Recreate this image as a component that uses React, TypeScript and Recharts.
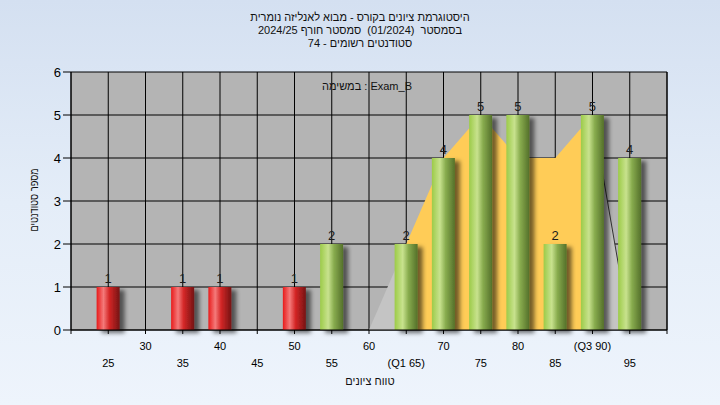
import React from 'react';
import {
  ComposedChart,
  Bar,
  Area,
  XAxis,
  YAxis,
  CartesianGrid,
  Cell,
  LabelList,
} from 'recharts';

// ---- data ----
const scores = [25, 30, 35, 40, 45, 50, 55, 60, 65, 70, 75, 80, 85, 90, 95];
const counts = [1, 0, 1, 1, 0, 1, 2, 0, 2, 4, 5, 5, 2, 5, 4];
// smoothed frequency curve drawn behind the bars (null = not drawn)
const curve = [null, null, null, null, null, null, null, 0, 2, 4, 5, 4, 4, 5, 0];
const Q1 = 65;
const Q3 = 90;
const PASS = 55;

const xTickValues = [20, 25, 30, 35, 40, 45, 50, 55, 60, 65, 70, 75, 80, 85, 90, 95, 100];
const xTickLabels = ['', '25', '30', '35', '40', '45', '50', '55', '60', '(Q1 65)', '70', '75', '80', '85', '(Q3 90)', '95', ''];
const yTicks = [0, 1, 2, 3, 4, 5, 6];

const titleLines = [
  'היסטוגרמת ציונים בקורס - מבוא לאנליזה נומרית',
  'בסמסטר  (01/2024)  סמסטר חורף 2024/25',
  'סטודנטים רשומים - 74',
];
const legendText = 'במשימה : Exam_B';
const xTitle = 'טווח ציונים';
const yTitle = 'מספר סטודנטים';

const data = scores.map((s, i) => ({
  x: s,
  count: counts[i],
  low: curve[i] !== null && s <= Q1 ? curve[i] : null,
  mid: curve[i] !== null && s >= Q1 && s <= Q3 ? curve[i] : null,
  high: curve[i] !== null && s >= Q3 ? curve[i] : null,
}));

const FONT = '"Liberation Sans", "DejaVu Sans", Arial, sans-serif';

const XTick = (props: any) => {
  const { x, y, payload } = props;
  const idx = xTickValues.indexOf(payload.value);
  const label = idx >= 0 ? xTickLabels[idx] : '';
  if (!label) return null;
  const row = payload.value % 10 === 0 ? 0 : 1;
  return (
    <text
      x={x}
      y={y + (row === 0 ? 11.5 : 28.5)}
      textAnchor="middle"
      dominantBaseline="central"
      fontSize={11}
      fontFamily={FONT}
      fill="#000"
    >
      {label}
    </text>
  );
};

export default function App() {
  return (
    <div
      style={{
        position: 'absolute',
        left: 0,
        top: 0,
        width: 720,
        height: 405,
        background: 'linear-gradient(to bottom, #D4E0F1 0%, #E4EDF8 50%, #EEF4FC 100%)',
        fontFamily: FONT,
        overflow: 'hidden',
      }}
    >
      <ComposedChart
        width={720}
        height={405}
        data={data}
        margin={{ top: 72, right: 0, bottom: 0, left: 0 }}
      >
        <defs>
          <linearGradient id="redGrad" x1="0" y1="0" x2="1" y2="0">
            <stop offset="0%" stopColor="#E81A1A" />
            <stop offset="30%" stopColor="#F47A7A" />
            <stop offset="55%" stopColor="#D42626" />
            <stop offset="100%" stopColor="#741414" />
          </linearGradient>
          <linearGradient id="greenGrad" x1="0" y1="0" x2="1" y2="0">
            <stop offset="0%" stopColor="#9CCB48" />
            <stop offset="35%" stopColor="#C8E28E" />
            <stop offset="60%" stopColor="#88AC4E" />
            <stop offset="100%" stopColor="#54702A" />
          </linearGradient>
          <filter id="barShadow" x="-30%" y="-10%" width="170%" height="130%">
            <feDropShadow dx="5" dy="3" stdDeviation="2" floodColor="#000" floodOpacity="0.55" />
          </filter>
        </defs>
        <CartesianGrid yAxisId="left" stroke="#000" strokeWidth={1} fill="#B4B4B4" fillOpacity={1} />
        <XAxis
          dataKey="x"
          type="number"
          domain={[20, 100]}
          ticks={xTickValues}
          interval={0}
          height={75}
          tickSize={4}
          tickMargin={0}
          stroke="#000"
          tickLine={{ stroke: '#000' }}
          tick={<XTick />}
          allowDataOverflow
        />
        <YAxis
          yAxisId="left"
          domain={[0, 6]}
          ticks={yTicks}
          width={71}
          tickSize={8}
          tickMargin={2}
          stroke="#000"
          tick={{ fontSize: 13, fill: '#000', fontFamily: FONT }}
        />
        <YAxis
          yAxisId="right"
          orientation="right"
          domain={[0, 6]}
          ticks={yTicks}
          width={53}
          tickSize={8}
          tickMargin={2}
          stroke="#000"
          tick={{ fontSize: 13, fill: '#000', fontFamily: FONT }}
        />
        <Area
          yAxisId="left"
          dataKey="low"
          type="linear"
          fill="#C4C4C4"
          fillOpacity={1}
          stroke="none"
          isAnimationActive={false}
          dot={false}
          activeDot={false}
        />
        <Area
          yAxisId="left"
          dataKey="mid"
          type="linear"
          fill="#FFCC57"
          fillOpacity={1}
          stroke="none"
          isAnimationActive={false}
          dot={false}
          activeDot={false}
        />
        <Area
          yAxisId="left"
          dataKey="high"
          type="linear"
          fill="#C4C4C4"
          fillOpacity={1}
          stroke="#333"
          strokeWidth={1}
          isAnimationActive={false}
          dot={false}
          activeDot={false}
        />
        <Bar
          yAxisId="left"
          dataKey="count"
          barSize={23}
          isAnimationActive={false}
          filter="url(#barShadow)"
        >
          {data.map((d) => (
            <Cell key={d.x} fill={d.x < PASS ? 'url(#redGrad)' : 'url(#greenGrad)'} />
          ))}
          <LabelList
            dataKey="count"
            position="top"
            offset={4}
            formatter={(v: any) => (v ? String(v) : '')}
            style={{ fontSize: 13, fill: '#1c1c1c', fontFamily: FONT }}
          />
        </Bar>
      </ComposedChart>

      <div
        dir="rtl"
        style={{
          position: 'absolute',
          left: 0,
          top: 11,
          width: 720,
          textAlign: 'center',
          fontSize: 11,
          lineHeight: '13px',
          color: '#111',
          whiteSpace: 'pre',
        }}
      >
        {titleLines.map((t, i) => (
          <div key={i}>{t}</div>
        ))}
      </div>

      <div
        dir="ltr"
        style={{
          position: 'absolute',
          left: 267,
          top: 79,
          width: 200,
          textAlign: 'center',
          fontSize: 11,
          lineHeight: '14px',
          color: '#111',
        }}
      >
        {legendText}
      </div>

      <div
        dir="rtl"
        style={{
          position: 'absolute',
          left: 270,
          top: 374,
          width: 200,
          textAlign: 'center',
          fontSize: 11,
          lineHeight: '14px',
          color: '#111',
        }}
      >
        {xTitle}
      </div>

      <div
        dir="rtl"
        style={{
          position: 'absolute',
          left: 34 - 60,
          top: 200 - 7,
          width: 120,
          textAlign: 'center',
          fontSize: 11,
          lineHeight: '14px',
          color: '#111',
          transform: 'rotate(-90deg) scaleX(0.84)',
          transformOrigin: '60px 7px',
        }}
      >
        {yTitle}
      </div>
    </div>
  );
}
